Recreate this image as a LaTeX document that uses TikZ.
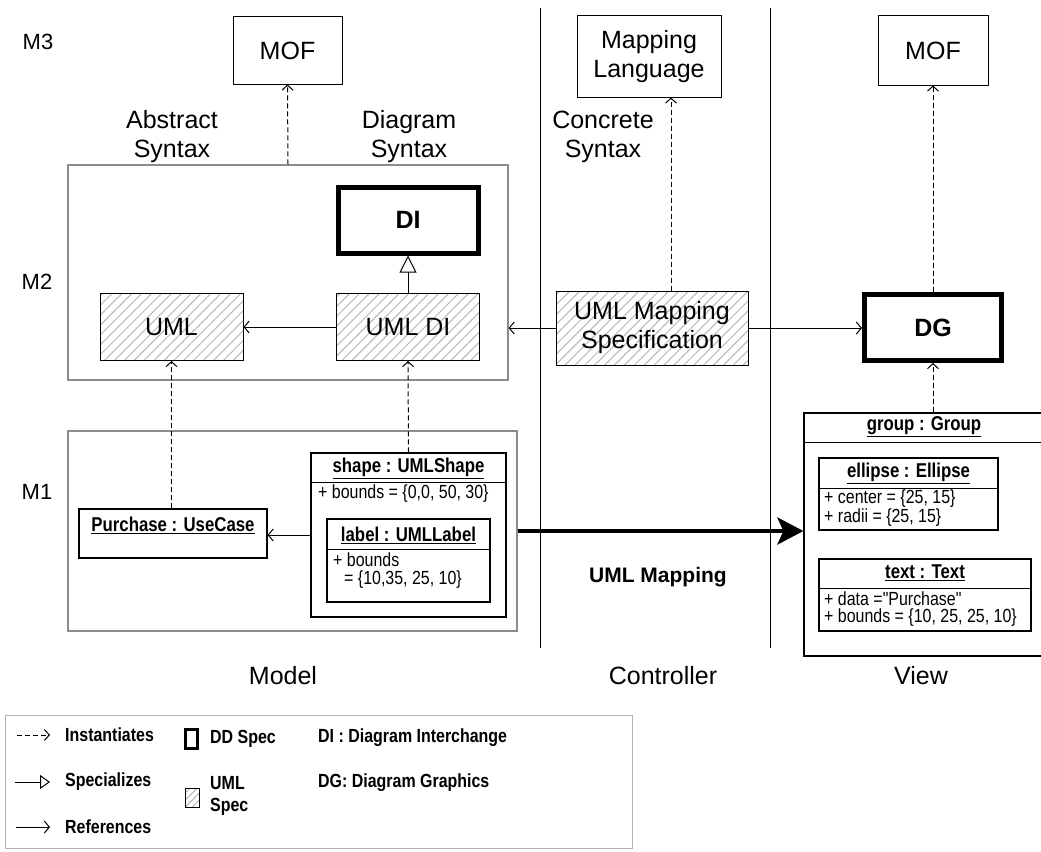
\documentclass[tikz,border=0pt]{standalone}
\usepackage{fontspec}
\setmainfont{Liberation Sans}
\newfontfamily\narrowfont[FakeStretch=0.84]{Liberation Sans}
\usetikzlibrary{arrows.meta,patterns.meta}

\tikzset{
  big/.style={font=\fontsize{25}{29}\selectfont, align=center},
  plain/.style={draw, line width=1pt, inner sep=0pt, big},
  ddspec/.style={draw, line width=5pt, inner sep=0pt, font=\fontsize{25}{29}\selectfont\bfseries},
  umlspec/.style={plain, pattern={Lines[angle=45,distance=7pt,line width=1pt]}, pattern color=black!28},
  frame/.style={draw=black!45, line width=1.2pt, inner sep=0pt},
  inst/.style={line width=1pt, dash pattern=on 5pt off 3pt, -{Straight Barb[length=5pt,width=11pt]}},
  refers/.style={line width=1pt, -{Straight Barb[length=5pt,width=12pt]}},
  special/.style={line width=1pt, -{Triangle[open,length=17pt,width=17pt]}},
  mapping/.style={line width=4pt, -{Stealth[length=26pt,width=27pt,inset=6pt]}},
  obj/.style={draw, line width=1.2pt, inner sep=0pt},
  objtitle/.style={font=\narrowfont\fontsize{20}{22}\selectfont\bfseries, inner sep=0pt},
  attr/.style={font=\narrowfont\fontsize{19}{17}\selectfont, inner sep=0pt, anchor=west, align=left},
  level/.style={font=\fontsize{22}{26}\selectfont},
  legend/.style={font=\narrowfont\fontsize{19}{22}\selectfont\bfseries, inner sep=0pt, anchor=west, align=left},
}

\begin{document}
\begin{tikzpicture}[x=1pt,y=-1pt]
  \useasboundingbox[fill=white] (0,0) rectangle (1041,851);

  % levels
  \node[level] (m3) at (38,42) {M3};
  \node[level] (m2) at (37,282) {M2};
  \node[level] (m1) at (37,492) {M1};

  % swimlanes
  \draw[line width=1pt] (540,8) -- (540,648);
  \draw[line width=1pt] (770,8) -- (770,648);

  % model
  \node[plain, minimum width=109, minimum height=67] (mofA) at (287.5,50.5) {MOF};
  \node[big] (abstract) at (172,137) {Abstract\\Syntax};
  \node[big] (diagsyn) at (409,137) {Diagram\\Syntax};
  \node[frame, minimum width=440, minimum height=215] (m2frame) at (288,272.5) {};
  \node[ddspec, minimum width=140, minimum height=66] (di) at (408,220) {DI};
  \node[umlspec, minimum width=143, minimum height=67] (uml) at (171.5,327) {UML};
  \node[umlspec, minimum width=143, minimum height=67] (umldi) at (408,327) {UML DI};

  \node[frame, minimum width=449, minimum height=200] (m1frame) at (292.5,531) {};
  \node[obj, minimum width=188, minimum height=49] (purchase) at (173,533.5) {};
  \node[objtitle] (purchasett) at (173,525) {\underline{Purchase : UseCase}};
  \node[obj, minimum width=195, minimum height=164] (shape) at (408.5,535) {};
  \node[objtitle] (shapett) at (408.5,468) {\underline{shape : UMLShape}};
  \draw[line width=1pt] (shape.west |- 0,482) -- (shape.east |- 0,482);
  \node[attr] (shapeat) at (318,494) {+ bounds = \{0,0, 50, 30\}};
  \node[obj, minimum width=163, minimum height=83] (label) at (408.5,560.5) {};
  \node[objtitle] (labeltt) at (408.5,535) {\underline{label : UMLLabel}};
  \draw[line width=1pt] (label.west |- 0,549) -- (label.east |- 0,549);
  \node[attr, font=\narrowfont\fontsize{19}{18}\selectfont] (labelat) at (333,571) {+ bounds\\\hspace*{11pt}= \{10,35, 25, 10\}};

  % controller
  \node[plain, minimum width=144, minimum height=81] (maplang) at (649,56.5) {Mapping\\Language};
  \node[big] (concrete) at (603,137) {Concrete\\Syntax};
  \node[umlspec, minimum width=192, minimum height=74] (spec) at (652,328) {UML Mapping\\Specification};
  \node[font=\fontsize{21}{25}\selectfont\bfseries] (mapname) at (658,577) {UML Mapping};

  % view
  \node[plain, minimum width=110, minimum height=69] (mofB) at (933,50.5) {MOF};
  \node[ddspec, minimum width=137, minimum height=66] (dg) at (933,327.5) {DG};
  \node[obj, minimum width=240, minimum height=243] (group) at (924,534.5) {};
  \node[objtitle] (grouptt) at (924,427) {\underline{group : Group}};
  \draw[line width=1pt] (group.west |- 0,442) -- (group.east |- 0,442);
  \node[obj, minimum width=179, minimum height=72] (ellipse) at (908.5,494) {};
  \node[objtitle] (ellipsett) at (908.5,473) {\underline{ellipse : Ellipse}};
  \draw[line width=1pt] (ellipse.west |- 0,488) -- (ellipse.east |- 0,488);
  \node[attr] (ellipseat) at (824,508) {+ center = \{25, 15\}\\+ radii = \{25, 15\}};
  \node[obj, minimum width=212, minimum height=72] (text) at (925,595) {};
  \node[objtitle] (texttt) at (925,573) {\underline{text : Text}};
  \draw[line width=1pt] (text.west |- 0,588) -- (text.east |- 0,588);
  \node[attr] (textat) at (824,609) {+ data ="Purchase"\\+ bounds = \{10, 25, 25, 10\}};

  \node[big] (model) at (283,676) {Model};
  \node[big] (controller) at (663,676) {Controller};
  \node[big] (view) at (921,676) {View};

  % connectors
  \draw[inst] (m2frame.north) -- (mofA.south);
  \draw[special] (umldi.north) -- (di.south);
  \draw[refers] (umldi.west) -- (uml.east);
  \draw[refers] (spec.west) -- (spec.west -| m2frame.east);
  \draw[refers] (spec.east) -- (spec.east -| dg.west);
  \draw[inst] ([xshift=19pt]spec.north) -- ([xshift=19pt]spec.north |- maplang.south);
  \draw[inst] (dg.north) -- (mofB.south);
  \draw[inst] (dg.south |- group.north) -- (dg.south);
  \draw[inst] (uml.south |- purchase.north) -- (uml.south);
  \draw[inst] (shape.north) -- (umldi.south);
  \draw[refers] (shape.west) -- (shape.west -| purchase.east);
  \draw[mapping] (m1frame.east) -- (m1frame.east -| group.west);

  % legend
  \draw[black!30, line width=1pt] (5,715) rectangle (632,848);
  \draw[inst] (17,735) -- (50,735);
  \draw[line width=1pt, -{Triangle[open,length=10pt,width=14pt]}] (15,782) -- (50,782);
  \draw[refers] (16,827) -- (50,827);
  \draw[line width=3pt] (185.5,729.5) rectangle (197.5,748.5);
  \draw[line width=1pt, pattern={Lines[angle=45,distance=5pt,line width=1pt]}, pattern color=black!28] (185,788) rectangle (199,807);
  \node[legend] (instlg) at (65,735) {Instantiates};
  \node[legend] (speclg) at (65,782) {Specializes};
  \node[legend] (reflg) at (65,827) {References};
  \node[legend] (ddlg) at (210,739) {DD Spec};
  \node[legend] (umllg) at (210,796) {UML\\Spec};
  \node[legend] (dilg) at (318,738) {DI : Diagram Interchange};
  \node[legend] (dglg) at (318,783) {DG: Diagram Graphics};
\end{tikzpicture}
\end{document}
